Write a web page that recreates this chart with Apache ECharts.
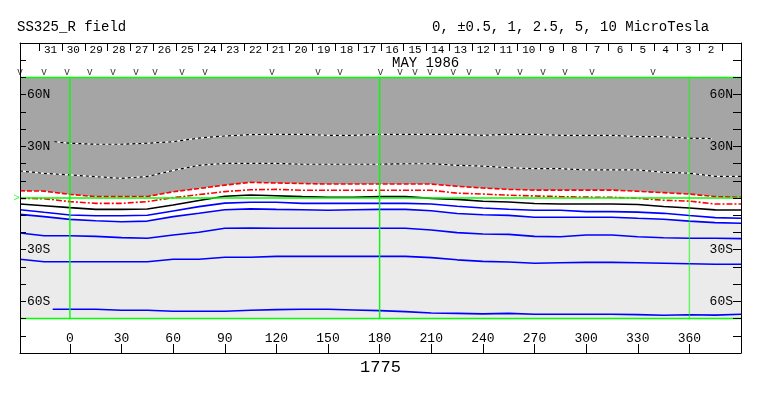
<!DOCTYPE html>
<html>
<head>
<meta charset="utf-8">
<script src="https://cdn.jsdelivr.net/npm/echarts@6/dist/echarts.min.js"></script>
<style>
html,body{margin:0;padding:0;background:#fff;}
#chart{width:763px;height:396px;}
</style>
</head>
<body>
<div id="chart"></div>
<script>
// ---- data ----
const lons = [-29,-15,0,15,30,45,60,75,90,105,120,135,150,165,180,195,210,225,240,255,270,285,300,315,330,345,360,375,390];

// black/white dotted contours (northern, inside dark grey)
const upperDotted = [[-9,32.7],[0,31.8],[15,31.2],[30,31.2],[45,31.8],[60,32.7],[75,34.8],[90,36.0],[105,36.8],[120,37.0],[135,37.0],[150,36.4],[165,36.4],[180,37.0],[195,37.0],[210,37.0],[225,37.0],[240,36.4],[255,37.0],[270,37.0],[285,36.4],[300,36.4],[315,36.4],[330,35.6],[345,35.6],[360,34.7],[373,34.5]];
const lowerDotted = [15.7,14.3,13.4,12.4,11.4,12.5,16.0,19.0,20.1,20.1,20.1,19.6,19.6,19.6,19.6,19.9,19.9,19.0,18.5,17.6,17.0,17.0,16.3,16.3,16.3,14.9,14.4,12.6,12.6];
// red dashed contours
const redUpper = [4.2,4.0,2.1,0.8,0.8,0.9,3.6,5.5,7.5,9.1,8.7,8.4,8.1,8.1,8.1,8.1,8.1,6.8,5.8,5.0,4.6,4.6,4.6,4.6,3.9,3.1,2.3,0.8,0.4];
const redLower = [-0.2,-0.4,-2.1,-3.1,-3.1,-2.1,0.2,2.0,3.7,4.8,5.0,4.5,4.5,4.5,4.5,4.5,4.5,2.8,2.3,1.6,1.2,0.8,0.5,0.4,-0.2,-1.3,-1.8,-3.5,-3.5];
// black solid contour
const blackLine = [-3.5,-4.5,-5.6,-6.6,-6.6,-6.4,-4.1,-1.5,1.0,1.7,1.3,0.8,0.4,0.4,0.8,0.8,-0.2,-0.8,-1.9,-2.3,-3.2,-3.5,-3.5,-3.5,-3.8,-4.9,-5.8,-6.9,-7.0];
// blue solid contours
const blue1 = [-6.8,-8.3,-9.9,-10.3,-10.3,-10.0,-7.5,-5.0,-3.0,-2.5,-2.5,-3.1,-3.1,-3.1,-3.1,-3.1,-3.5,-4.8,-5.8,-6.5,-7.1,-7.1,-7.9,-7.9,-8.2,-8.9,-10.2,-11.4,-11.8];
const blue2 = [-9.5,-10.8,-12.4,-13.2,-13.8,-13.4,-10.8,-8.9,-6.8,-6.3,-6.6,-6.8,-7.1,-6.8,-6.6,-6.6,-7.4,-9.0,-9.7,-10.1,-11.2,-11.2,-11.2,-11.2,-11.8,-12.3,-13.4,-14.3,-14.7];
const blue3 = [-20.3,-21.9,-21.9,-22.3,-23.0,-23.4,-21.5,-19.9,-17.6,-17.4,-17.6,-17.6,-17.6,-17.6,-17.6,-17.6,-18.6,-20.1,-20.9,-21.1,-22.3,-22.5,-21.5,-21.5,-22.5,-23.1,-23.4,-23.4,-23.6];
const blue4 = [-35.6,-37.0,-37.0,-37.0,-37.0,-37.0,-35.6,-35.6,-34.4,-34.4,-33.9,-33.9,-33.9,-33.9,-33.9,-33.9,-34.6,-35.9,-36.8,-37.2,-37.9,-37.6,-37.4,-37.4,-37.6,-37.9,-38.2,-38.5,-38.5];
const blue5 = [[-10,-64.6],[0,-64.6],[15,-64.6],[30,-65.2],[45,-65.2],[60,-65.8],[75,-65.8],[90,-65.8],[105,-65.2],[120,-64.8],[135,-64.6],[150,-64.6],[165,-65.0],[180,-65.4],[195,-66.0],[210,-66.8],[225,-67.0],[240,-67.3],[255,-67.0],[270,-67.5],[285,-67.5],[300,-67.5],[315,-67.5],[330,-67.7],[345,-68.1],[360,-67.8],[375,-68.0],[390,-67.5]];

// pass markers ("v") along the top
const passLons = [-29,-15.1,-1.7,11.6,25.0,38.4,49.4,65.1,78.5,117.4,144.2,157.0,180.5,191.8,200.6,209.3,222.8,231.9,248.8,261.6,274.9,287.7,303.4,338.9];
const passLat = 73;

// axis ticks / labels
const lonTicks = [0,30,60,90,120,150,180,210,240,270,300,330,360];
const latLabels = {60:'60N',30:'30N','-30':'30S','-60':'60S'};
const dayLabels = [31,30,29,28,27,26,25,24,23,22,21,20,19,18,17,16,15,14,13,12,11,10,9,8,7,6,5,4,3,2];
const dayStartLon = -17.84, dayWidthLon = 13.235;
const meridians = [0,180,360];
const bandLats = [70,0,-70];

// ---- build ----
const dayBounds = [];
for (let i = 0; i <= dayLabels.length; i++) dayBounds.push(dayStartLon + i*dayWidthLon);
const dayMids = dayLabels.map((d,i) => dayStartLon + (i+0.5)*dayWidthLon);

const zip = vals => lons.map((x,i) => [x, vals[i]]);
const FONT = "'Liberation Mono', 'DejaVu Sans Mono', monospace";
const GRAY = '#a5a5a5', LIGHT = '#ebebeb', GREEN = '#00ff00';

function ln(data, color, width, type, z) {
  return {type:'line', data, symbol:'none', silent:true, z:z||3,
          lineStyle:{color, width, type:type||'solid'}};
}

const series = [
  {type:'line', data:zip(redUpper), symbol:'none', silent:true, z:1,
   lineStyle:{width:0}, areaStyle:{origin:70, color:GRAY, opacity:1}},
  {type:'line', data:zip(blue2), symbol:'none', silent:true, z:1,
   lineStyle:{width:0}, areaStyle:{origin:-70, color:LIGHT, opacity:1}},
  ln(upperDotted, '#ffffff', 1.2),
  ln(upperDotted, '#000000', 1.2, [3,3]),
  ln(zip(lowerDotted), '#ffffff', 1.2),
  ln(zip(lowerDotted), '#000000', 1.2, [3,3]),
  ln(zip(redUpper), '#ff0000', 1.6, [5,2]),
  ln(zip(redLower), '#ff0000', 1.6, [6,2,2,2]),
  ln(zip(blackLine), '#000000', 1.6),
  ln(zip(blue1), '#0000ff', 1.6),
  ln(zip(blue2), '#0000ff', 1.6),
  ln(zip(blue3), '#0000ff', 1.6),
  ln(zip(blue4), '#0000ff', 1.6),
  ln(blue5, '#0000ff', 1.6)
];
bandLats.forEach(lat => series.push(ln([[-29,lat],[390,lat]], GREEN, 1.6, 'solid', 5)));
meridians.forEach(m => {
  const s = ln([[m,-70],[m,70]], GREEN, 1.4, 'solid', 5);
  if (m === 360) s.lineStyle.opacity = 0.6;
  series.push(s);
});
series.push({
  type:'scatter', data: passLons.map(x => [x, passLat]), symbol:'circle', symbolSize:1,
  itemStyle:{color:'rgba(0,0,0,0)'}, silent:true, z:6, clip:false,
  label:{show:true, position:'inside', formatter:'v', fontFamily:FONT, fontSize:10, color:'#000'}
});
series.push({
  type:'scatter', data:[[-29,0]], symbol:'circle', symbolSize:1, itemStyle:{color:'rgba(0,0,0,0)'}, silent:true, clip:false, z:6,
  label:{show:true, position:'left', distance:0, formatter:'>', fontFamily:FONT, fontSize:10, color:GREEN}
});

const chart = echarts.init(document.getElementById('chart'), null, {renderer:'canvas'});
chart.setOption({
  animation:false,
  backgroundColor:'#ffffff',
  title:[
    {text:'SS325_R field', left:17, top:20, padding:0, textStyle:{fontFamily:FONT, fontSize:14, fontWeight:'normal', color:'#000'}},
    {text:'0, \u00b10.5, 1, 2.5, 5, 10 MicroTesla', left:432, top:20, padding:0, textStyle:{fontFamily:FONT, fontSize:14, fontWeight:'normal', color:'#000'}},
    {text:'MAY 1986', left:392, top:56, padding:0, textStyle:{fontFamily:FONT, fontSize:14, fontWeight:'normal', color:'#000'}}
  ],
  grid:{left:20, right:22, top:43, bottom:43, show:false, containLabel:false},
  xAxis:[
    {type:'value', position:'bottom', min:-29, max:390, z:10,
     axisLine:{show:true, onZero:false, lineStyle:{color:'#000', width:1}},
     axisTick:{show:true, inside:true, length:9, customValues:lonTicks, lineStyle:{color:'#000'}},
     axisLabel:{show:true, inside:true, margin:8, customValues:lonTicks, fontFamily:FONT, fontSize:13, color:'#000'},
     splitLine:{show:false},
     name:'1775', nameLocation:'middle', nameGap:5,
     nameTextStyle:{fontFamily:FONT, fontSize:17, color:'#000'}},
    {type:'value', position:'top', min:-29, max:390, z:10,
     axisLine:{show:true, onZero:false, lineStyle:{color:'#000', width:1}},
     axisTick:{show:true, inside:true, length:8, customValues:dayBounds, lineStyle:{color:'#000'}},
     axisLabel:{show:true, inside:true, margin:2, customValues:dayMids, fontFamily:FONT, fontSize:11, color:'#000',
       formatter: v => { const i = Math.round((v - dayStartLon)/dayWidthLon - 0.5); return dayLabels[i] === undefined ? '' : String(dayLabels[i]); }},
     splitLine:{show:false}}
  ],
  yAxis:[
    {type:'value', position:'left', min:-90, max:90, interval:10, z:10,
     axisLine:{show:true, onZero:false, lineStyle:{color:'#000', width:1}},
     axisTick:{show:true, inside:true, length:6, lineStyle:{color:'#000'}},
     axisLabel:{show:true, inside:true, margin:7, fontFamily:FONT, fontSize:13, color:'#000',
       formatter: v => latLabels[v] || ''},
     splitLine:{show:false}},
    {type:'value', position:'right', min:-90, max:90, interval:10, z:10,
     axisLine:{show:true, onZero:false, lineStyle:{color:'#000', width:1}},
     axisTick:{show:true, inside:true, length:8, lineStyle:{color:'#000'}},
     axisLabel:{show:true, inside:true, margin:8, fontFamily:FONT, fontSize:13, color:'#000',
       formatter: v => latLabels[v] || ''},
     splitLine:{show:false}}
  ],
  series: series
});
</script>
</body>
</html>
